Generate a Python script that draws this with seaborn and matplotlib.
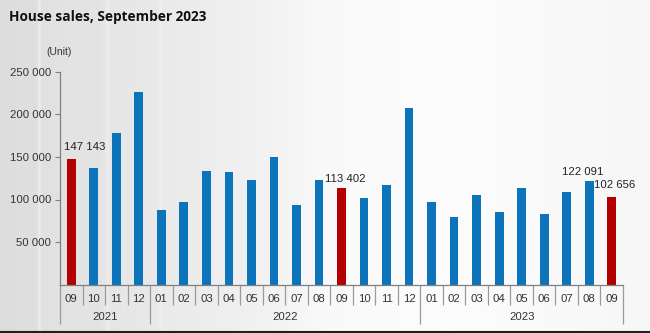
import numpy as np
import pandas as pd
import matplotlib
matplotlib.use("Agg")
import matplotlib.pyplot as plt
import matplotlib.transforms as mtransforms
from matplotlib.ticker import FuncFormatter
import seaborn as sns

# Monthly house sales, Sep 2021 - Sep 2023
months = ["09", "10", "11", "12",
          "01", "02", "03", "04", "05", "06", "07", "08", "09", "10", "11", "12",
          "01", "02", "03", "04", "05", "06", "07", "08", "09"]
years = ["2021"] * 4 + ["2022"] * 12 + ["2023"] * 9
sales = [147143, 137500, 178000, 226000,
         87600, 97000, 133500, 132300, 122900, 150000, 93500, 122900,
         113402, 101800, 117000, 207600,
         97000, 79900, 105300, 85300, 113500, 82900, 108800, 122091, 102656]
highlight = [0, 12, 24]
year_names = ["2021", "2022", "2023"]

# value labels: (bar index, dx px, dy px)
labelled = [(0, 13, 12), (12, 4, 9.5), (23, -7, 9), (24, 3, 12.5)]

BLUE = "#0b74ba"
RED = "#b30000"

sns.set_theme(style="white")
plt.rcParams["font.family"] = ["Liberation Sans", "DejaVu Sans"]

W, H = 650, 333
fig = plt.figure(figsize=(W / 100, H / 100), dpi=100)

# soft horizontal background shading
bg = fig.add_axes([0, 0, 1, 1], zorder=-10)
xs = np.arange(W)
stops_x = [0, 36, 39, 42, 60, 104, 107, 110, 157, 160, 163, 250, 330, 450, 560, 650]
stops_v = [0.865, 0.87, 0.92, 0.875, 0.885, 0.895, 0.925, 0.90, 0.91, 0.935, 0.915, 0.94, 0.975, 0.985, 0.975, 0.962]
prof = np.interp(xs, stops_x, stops_v)
img = np.tile(prof, (H, 1))
bg.imshow(img, cmap="gray", vmin=0, vmax=1, aspect="auto", extent=[0, W, H, 0])
bg.axhline(H - 1, color="#202020", lw=1.5)
bg.set_xlim(0, W)
bg.set_ylim(H, 0)
bg.axis("off")

ax = fig.add_axes([60 / W, 1 - 284.7 / H, (623 - 60) / W, (284.7 - 71.7) / H])
ax.patch.set_alpha(0)

df = pd.DataFrame({"idx": [str(i) for i in range(len(sales))], "sales": sales})
palette = [RED if i in highlight else BLUE for i in range(len(sales))]
sns.barplot(data=df, x="idx", y="sales", hue="idx", palette=palette,
            legend=False, width=0.39, ax=ax, saturation=1, linewidth=0,
            edgecolor="none")

ax.set_xlim(-0.5, len(sales) - 0.5)
ax.set_ylim(0, 250000)
ax.set_yticks([50000, 100000, 150000, 200000, 250000])
ax.yaxis.set_major_formatter(FuncFormatter(lambda v, p: f"{int(v):,}".replace(",", " ")))
ax.tick_params(axis="y", length=3.5, width=0.8, color="#808080", pad=3,
               labelsize=8.2, labelcolor="#333333", left=True)
ax.set_xticks(range(len(months)))
ax.set_xticklabels(months)
ax.tick_params(axis="x", length=0, pad=7, labelsize=8.2, labelcolor="#333333")
ax.set_xlabel("")
ax.set_ylabel("")

for s in ["top", "right"]:
    ax.spines[s].set_visible(False)
for s in ["left", "bottom"]:
    ax.spines[s].set_color("#808080")
    ax.spines[s].set_linewidth(0.9)

# category separators below the axis
trans = mtransforms.blended_transform_factory(ax.transData, ax.transAxes)
ax_h_px = 284.7 - 71.7
month_drop = 20 / ax_h_px
year_drop = 39 / ax_h_px
year_bounds = [-0.5]
for i in range(1, len(years)):
    if years[i] != years[i - 1]:
        year_bounds.append(i - 0.5)
year_bounds.append(len(years) - 0.5)
for b in np.arange(-0.5, len(months), 1.0):
    drop = year_drop if any(abs(b - yb) < 1e-9 for yb in year_bounds) else month_drop
    ax.plot([b, b], [0, -drop], transform=trans, color="#9a9a9a", lw=0.9,
            clip_on=False, solid_capstyle="butt")
for k, yname in enumerate(year_names):
    c = (year_bounds[k] + year_bounds[k + 1]) / 2
    ax.text(c, -32 / ax_h_px, yname, transform=trans, ha="center", va="center",
            fontsize=8.2, color="#333333")

# value labels
for i, dx, dy in labelled:
    ax.annotate(f"{sales[i]:,}".replace(",", " "), xy=(i, sales[i]),
                xytext=(dx * 0.72, dy * 0.72), textcoords="offset points",
                ha="center", va="center", fontsize=8.2, color="#222222")

fig.text(9 / W, 1 - 16.7 / H, "House sales, September 2023", fontsize=9.8,
         fontweight="bold", family=["Open Sans", "DejaVu Sans"], color="#111111",
         ha="left", va="center")
fig.text(59 / W, 1 - 51.7 / H, "(Unit)", fontsize=7.5, color="#333333",
         ha="center", va="center")

fig.savefig("out.png", dpi=100)
